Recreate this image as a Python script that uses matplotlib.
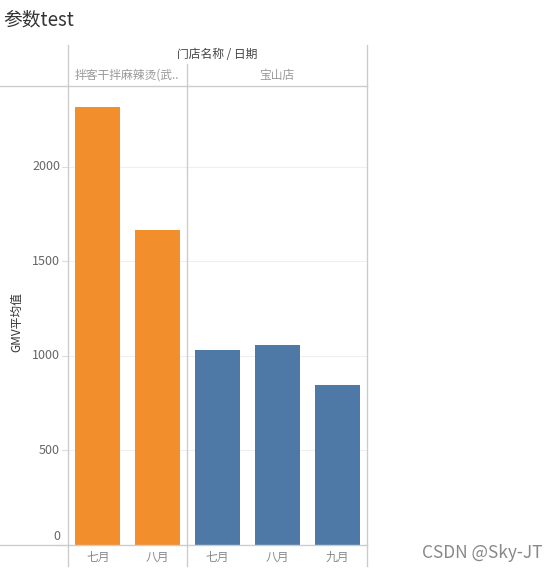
import matplotlib.pyplot as plt
from matplotlib.lines import Line2D

plt.rcParams['font.family'] = ['Noto Sans CJK SC', 'DejaVu Sans']

stores = ['拌客干拌麻辣烫(武..', '宝山店']
months = ['七月', '八月', '七月', '八月', '九月']
store_of_bar = [0, 0, 1, 1, 1]
gmv_avg = [2318, 1668, 1032, 1058, 848]
yticks = [0, 500, 1000, 1500, 2000]
colors = ['#F28E2B', '#4E79A7']

W, H = 558, 573
fig = plt.figure(figsize=(W / 100, H / 100), dpi=100)

def fx(px):
    return px / W

def fy(py):
    return 1 - py / H

# plot area in pixels
left, right, top, bottom = 68, 367, 86, 545
ax = fig.add_axes([fx(left), fy(bottom), fx(right - left), (bottom - top) / H])

x = list(range(len(gmv_avg)))
ax.bar(x, gmv_avg, width=0.75, color=[colors[s] for s in store_of_bar], zorder=2)
ax.set_xlim(-0.5, len(gmv_avg) - 0.5)
ax.set_ylim(0, 2428)
ax.set_yticks(yticks)
ax.set_yticklabels([])
ax.set_xticks([])
for sp in ax.spines.values():
    sp.set_visible(False)
ax.tick_params(left=False)
for t in yticks[1:]:
    ax.axhline(t, color='#efefef', lw=0.8, zorder=0)

# y tick labels (Tableau puts the zero label slightly up)
for t in yticks:
    yy = bottom - t * (bottom - top) / 2428
    if t == 0:
        yy -= 8
    fig.text(fx(60), fy(yy), str(t), ha='right', va='center', fontsize=9, color='#666666')
    fig.add_artist(Line2D([fx(62), fx(67)], [fy(bottom - t * (bottom - top) / 2428)] * 2,
                          color='#dddddd', lw=0.8))

fig.text(fx(17), fy(322), 'GMV平均值', rotation=90, ha='center', va='center',
         fontsize=8.5, color='#333333')

# frame lines
line_c = '#cccccc'
for px in [68, 187, 367]:
    y0 = 45 if px != 187 else 64
    fig.add_artist(Line2D([fx(px), fx(px)], [fy(y0), fy(566)], color=line_c, lw=1))
fig.add_artist(Line2D([0, fx(367)], [fy(86), fy(86)], color=line_c, lw=1))
fig.add_artist(Line2D([0, fx(367)], [fy(545), fy(545)], color=line_c, lw=1))

# header
fig.text(fx(217), fy(55), '门店名称 / 日期', ha='center', va='center', fontsize=8.5, color='#444444')
fig.text(fx(127), fy(75), stores[0], ha='center', va='center', fontsize=8.5, color='#999999')
fig.text(fx(277), fy(75), stores[1], ha='center', va='center', fontsize=8.5, color='#999999')

# month labels
for i, m in enumerate(months):
    px = left + (i + 0.5) * (right - left) / len(months)
    fig.text(fx(px), fy(557), m, ha='center', va='center', fontsize=8.5, color='#888888')

fig.text(fx(3), fy(20), '参数test', ha='left', va='center', fontsize=13.5, color='#333333')
fig.text(fx(543), fy(553), 'CSDN @Sky-JT', ha='right', va='center', fontsize=12.5, color='#888888')

fig.savefig('out.png', dpi=100)
